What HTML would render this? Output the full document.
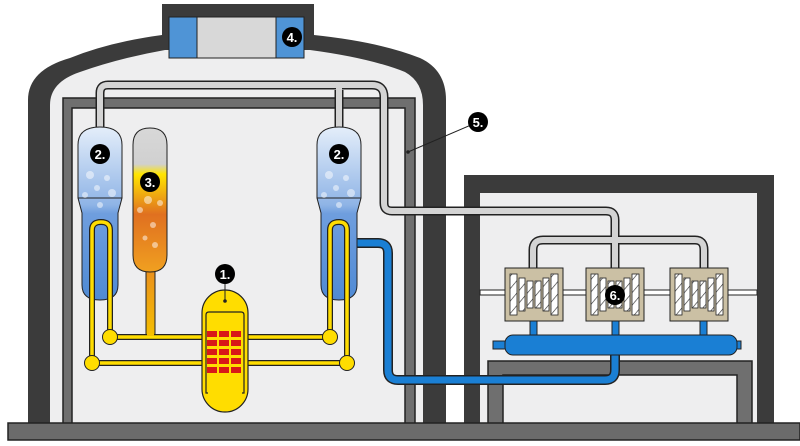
<!DOCTYPE html>
<html><head><meta charset="utf-8"><style>
html,body{margin:0;padding:0;background:#fff;width:800px;height:446px;overflow:hidden}
svg{display:block}
text{font-family:"Liberation Sans",sans-serif;font-weight:bold;fill:#fff;font-size:13px;text-anchor:middle}
</style></head><body>
<svg width="800" height="446" viewBox="0 0 800 446" xmlns="http://www.w3.org/2000/svg">
<defs>
<linearGradient id="sg" x1="0" y1="0" x2="0" y2="1">
<stop offset="0" stop-color="#e4eefa"/><stop offset="0.45" stop-color="#8fb4e6"/><stop offset="0.5" stop-color="#6f9ede"/><stop offset="1" stop-color="#4f8ad4"/></linearGradient>
<linearGradient id="pz" x1="0" y1="0" x2="0" y2="1">
<stop offset="0" stop-color="#d8d8d8"/><stop offset="0.25" stop-color="#d0d0d0"/><stop offset="0.32" stop-color="#ffe600"/><stop offset="0.6" stop-color="#e07020"/><stop offset="1" stop-color="#f0a020"/></linearGradient>
<linearGradient id="stem" x1="0" y1="0" x2="0" y2="1"><stop offset="0" stop-color="#e88a20"/><stop offset="1" stop-color="#f5c000"/></linearGradient>
<pattern id="hatch" width="8" height="8" patternUnits="userSpaceOnUse" patternTransform="rotate(40)">
<rect width="8" height="8" fill="#fff"/><line x1="0" y1="0" x2="0" y2="8" stroke="#333" stroke-width="1.3"/></pattern>
</defs>
<!-- containment dome -->
<path d="M28 423 V100 Q28 70 70 58 Q110 42 162 35 V4 H314 V35 Q380 42 420 58 Q446 70 446 100 V423 Z" fill="#3b3b3b"/>
<path d="M50 423 V105 Q50 82 80 72 Q120 58 165 50 H310 Q370 58 405 72 Q423 82 423 105 V423 Z" fill="#eeeeef"/>
<rect x="169" y="17" width="135" height="41" fill="#4f94d6" stroke="#222" stroke-width="1"/>
<rect x="197" y="17" width="79" height="41" fill="#d8d8d8" stroke="#222" stroke-width="1"/>
<!-- inner building -->
<rect x="63" y="98" width="352" height="330" fill="#6f6f6f" stroke="#222" stroke-width="1.5"/>
<rect x="72" y="108" width="333" height="320" fill="#eeeeef" stroke="#222" stroke-width="1.5"/>
<!-- turbine building -->
<rect x="464" y="175" width="310" height="255" fill="#3b3b3b"/>
<rect x="480" y="193" width="277" height="240" fill="#eeeeef"/>
<rect x="488" y="361" width="264" height="70" fill="#6f6f6f" stroke="#222" stroke-width="1.5"/>
<rect x="503" y="375" width="234" height="60" fill="#eeeeef" stroke="#222" stroke-width="1.5"/>
<!-- base -->
<rect x="8" y="423" width="792" height="17" fill="#6b6b6b" stroke="#222" stroke-width="1.5"/>
<!-- steam pipes -->
<g fill="none" stroke-linejoin="round">
<path d="M100 130 V93 Q100 85 108 85 H372 Q384 85 384 97 V203 Q384 211 392 211 H606 Q615 211 615 220 V270" stroke="#222" stroke-width="9"/>
<path d="M339 130 V90" stroke="#222" stroke-width="9"/>
<path d="M533 270 V250 Q533 240 543 240 H695 Q704 240 704 250 V270" stroke="#222" stroke-width="9"/>
<path d="M100 130 V93 Q100 85 108 85 H372 Q384 85 384 97 V203 Q384 211 392 211 H606 Q615 211 615 220 V270" stroke="#d4d4d4" stroke-width="6"/>
<path d="M339 130 V88" stroke="#d4d4d4" stroke-width="6"/>
<path d="M533 270 V250 Q533 240 543 240 H695 Q704 240 704 250 V270" stroke="#d4d4d4" stroke-width="6"/>
<path d="M357 243 H378 Q388 243 388 253 V370 Q388 380 398 380 H605 Q615 380 615 370 V345" stroke="#222" stroke-width="10"/>
<path d="M357 243 H378 Q388 243 388 253 V370 Q388 380 398 380 H605 Q615 380 615 370 V345" stroke="#1a7fd4" stroke-width="7"/>
</g>
<!-- shaft -->
<rect x="480" y="290" width="277" height="5" fill="#fff" stroke="#222" stroke-width="1"/>
<!-- condenser -->
<g stroke="#222" stroke-width="1">
<rect x="530" y="318" width="7" height="20" fill="#1a7fd4"/>
<rect x="612" y="318" width="7" height="20" fill="#1a7fd4"/>
<rect x="700" y="318" width="7" height="20" fill="#1a7fd4"/>
<rect x="493" y="341" width="14" height="8" fill="#1a7fd4"/>
<rect x="727" y="341" width="14" height="8" fill="#1a7fd4"/>
<rect x="505" y="335" width="232" height="20" rx="8" fill="#1a7fd4"/>
</g>
<!-- turbines -->
<g stroke="#222" stroke-width="1">
<rect x="505" y="268" width="58" height="53" fill="#cbc0a4"/>
<rect x="586" y="268" width="58" height="53" fill="#cbc0a4"/>
<rect x="670" y="268" width="58" height="53" fill="#cbc0a4"/>
</g>
<g fill="url(#hatch)" stroke="#222" stroke-width="0.8">
<rect x="510" y="274" width="7" height="41"/><rect x="519" y="278" width="6" height="33"/><rect x="527" y="281" width="6" height="27"/><rect x="535" y="281" width="6" height="27"/><rect x="543" y="278" width="6" height="33"/><rect x="551" y="274" width="7" height="41"/>
<rect x="591" y="274" width="7" height="41"/><rect x="600" y="278" width="6" height="33"/><rect x="608" y="281" width="6" height="27"/><rect x="616" y="281" width="6" height="27"/><rect x="624" y="278" width="6" height="33"/><rect x="632" y="274" width="7" height="41"/>
<rect x="675" y="274" width="7" height="41"/><rect x="684" y="278" width="6" height="33"/><rect x="692" y="281" width="6" height="27"/><rect x="700" y="281" width="6" height="27"/><rect x="708" y="278" width="6" height="33"/><rect x="716" y="274" width="7" height="41"/>
</g>
<!-- SGs & pressurizer -->
<rect x="146" y="262" width="9" height="77" fill="url(#stem)" stroke="#222" stroke-width="1"/>
<g stroke="#222" stroke-width="1">
<path d="M78 198 V145 Q78 127 100 127 Q122 127 122 145 V198 L118 213 V285 Q118 300 100 300 Q82 300 82 285 V213 Z" fill="url(#sg)"/>
<path d="M317 198 V145 Q317 127 339 127 Q361 127 361 145 V198 L357 213 V285 Q357 300 339 300 Q321 300 321 285 V213 Z" fill="url(#sg)"/>
<line x1="78" y1="198" x2="122" y2="198"/><line x1="317" y1="198" x2="361" y2="198"/>
<path d="M133 145 Q133 128 150 128 Q167 128 167 145 V255 Q167 272 150 272 Q133 272 133 255 Z" fill="url(#pz)"/>
</g>
<g fill="#fff" opacity="0.5">
<circle cx="90" cy="175" r="4"/><circle cx="107" cy="178" r="3"/><circle cx="97" cy="188" r="3"/><circle cx="85" cy="195" r="3"/><circle cx="112" cy="193" r="4"/><circle cx="100" cy="205" r="3"/>
<circle cx="329" cy="175" r="4"/><circle cx="346" cy="178" r="3"/><circle cx="336" cy="188" r="3"/><circle cx="324" cy="195" r="3"/><circle cx="351" cy="193" r="4"/><circle cx="339" cy="205" r="3"/>
<circle cx="148" cy="200" r="4"/><circle cx="160" cy="203" r="3"/><circle cx="140" cy="210" r="3"/><circle cx="153" cy="225" r="3"/><circle cx="145" cy="238" r="2.5"/><circle cx="155" cy="245" r="3"/>
</g>
<!-- yellow primary -->
<g fill="none" stroke-linejoin="round">
<path d="M92 363 V230 Q92 222 101 222 Q110 222 110 230 V337 H330 V230 Q330 222 339 222 Q347 222 347 230 V363 H92" stroke="#222" stroke-width="6"/>
<path d="M92 363 V230 Q92 222 101 222 Q110 222 110 230 V337 H330 V230 Q330 222 339 222 Q347 222 347 230 V363 H92" stroke="#ffdd00" stroke-width="3.5"/>
</g>
<rect x="147" y="333" width="7" height="3" fill="#f5c000"/>
<g fill="#ffdd00" stroke="#222" stroke-width="1">
<circle cx="110" cy="337" r="7.5"/><circle cx="92" cy="363" r="7.5"/><circle cx="330" cy="337" r="7.5"/><circle cx="347" cy="363" r="7.5"/>
</g>
<!-- reactor -->
<rect x="202" y="290" width="46" height="122" rx="23" fill="#ffdd00" stroke="#222" stroke-width="1.2"/>
<path d="M208 393 H206 V315 Q206 312 209 312 H241 Q244 312 244 315 V393 H242" fill="none" stroke="#222" stroke-width="1.2"/>
<g fill="#d81818">
<rect x="207" y="331" width="10" height="6"/><rect x="219" y="331" width="10" height="6"/><rect x="231" y="331" width="10" height="6"/>
<rect x="207" y="340" width="10" height="6"/><rect x="219" y="340" width="10" height="6"/><rect x="231" y="340" width="10" height="6"/>
<rect x="207" y="349" width="10" height="6"/><rect x="219" y="349" width="10" height="6"/><rect x="231" y="349" width="10" height="6"/>
<rect x="207" y="358" width="10" height="6"/><rect x="219" y="358" width="10" height="6"/><rect x="231" y="358" width="10" height="6"/>
<rect x="207" y="367" width="10" height="6"/><rect x="219" y="367" width="10" height="6"/><rect x="231" y="367" width="10" height="6"/>
</g>
<!-- labels -->
<line x1="225" y1="274" x2="225" y2="301" stroke="#222"/><circle cx="225" cy="301" r="1.8" fill="#222"/>
<line x1="478" y1="122" x2="408" y2="152" stroke="#222"/><circle cx="408" cy="152" r="1.8" fill="#222"/>
<g fill="#000">
<circle cx="225" cy="274" r="10"/><circle cx="100" cy="154" r="10"/><circle cx="339" cy="154" r="10"/><circle cx="150" cy="182" r="10"/><circle cx="292" cy="37" r="10"/><circle cx="478" cy="122" r="10"/><circle cx="615" cy="295" r="10"/>
</g>
<text x="225" y="279">1.</text><text x="100" y="159">2.</text><text x="339" y="159">2.</text><text x="150" y="187">3.</text><text x="292" y="42">4.</text><text x="478" y="127">5.</text><text x="615" y="300">6.</text>
</svg>
</body></html>
